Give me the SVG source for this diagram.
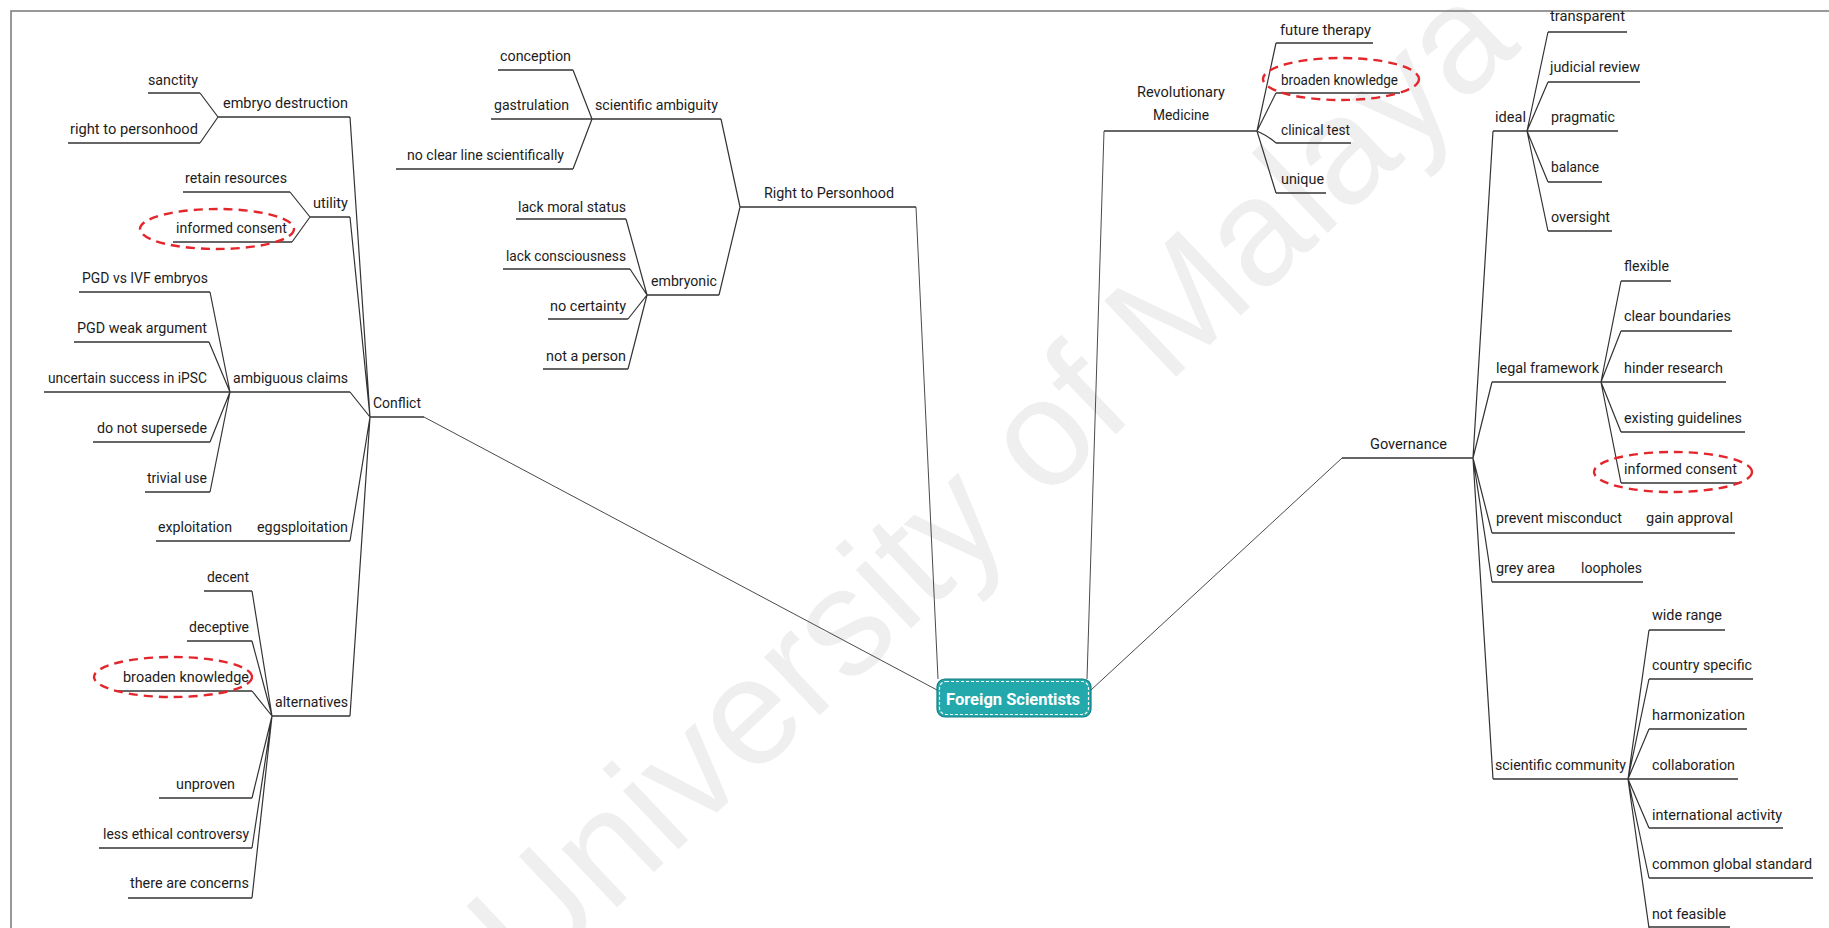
<svg xmlns="http://www.w3.org/2000/svg" width="1829" height="928" viewBox="0 0 1829 928">
  <defs>
    <style>
      .t { font-family: Roboto, "Liberation Sans", sans-serif; font-size: 14.5px; fill: #1c1c1c; }
      .ul { fill: none; stroke: #333; stroke-width: 1.3; }
      .link { fill: none; stroke: #333; stroke-width: 1.2; }
      .root { fill: none; stroke: #4a4a4a; stroke-width: 1; }
      .mark { fill: none; stroke: #e3262c; stroke-width: 2.4; stroke-dasharray: 9 6; }
      .wm { font-family: "Liberation Sans", Arial, sans-serif; font-size: 152px; fill: #efefef; }
    </style>
  </defs>

  <rect x="0" y="0" width="1829" height="928" fill="#ffffff"/>
  <text class="wm" transform="translate(530,990) rotate(-43.5)">University of Malaya</text>
  <path d="M11,928 L11,11 L1829,11" fill="none" stroke="#777" stroke-width="1.5"/>

  <!-- connectors between topics -->
  <g id="connectors">
    <path class="root" d="M424,417 L937,690"/>
    <path class="root" d="M916,207 L938,679"/>
    <path class="root" d="M1104,131 L1087,679"/>
    <path class="root" d="M1342,458 L1091,690"/>

    <path class="link" d="M350,117 L370,417 M350,217 L370,417 M350,392 L370,417 M350,541 L370,417 M350,716 L370,417"/>
    <path class="link" d="M200,93 L218,117 M200,143 L218,117"/>
    <path class="link" d="M290,192 L310,217 M292,242 L310,217"/>
    <path class="link" d="M210,292 L230,392 M209,342 L230,392 M210,442 L230,392 M210,492 L230,392"/>
    <path class="link" d="M252,591 L272,716 M252,641 L272,716 M252,691 L272,716 M252,798 L272,716 M252,848 L272,716 M252,898 L272,716"/>

    <path class="link" d="M721,119 L740,207 M719,295 L740,207"/>
    <path class="link" d="M573,70 L592,119 M573,169 L592,119"/>
    <path class="link" d="M626,219 L647,295 M630,269 L647,295 M628,319 L647,295 M628,369 L647,295"/>

    <path class="link" d="M1257,131 L1276,43 M1257,131 L1276,93 M1257,131 Q1268,136 1276,143 M1257,131 L1276,193"/>

    <path class="link" d="M1473,458 L1493,131 M1473,458 L1492,382 M1473,458 L1492,533 M1473,458 L1492,582 M1473,458 L1493,779"/>
    <path class="link" d="M1527,131 L1548,32 M1527,131 L1548,82 M1527,131 L1548,182 M1527,131 L1548,231"/>
    <path class="link" d="M1601,382 L1621,281 M1601,382 L1621,331 M1601,382 L1621,432 M1601,382 L1621,483"/>
    <path class="link" d="M1628,779 L1649,630 M1628,779 L1649,679 M1628,779 L1649,729 M1628,779 L1649,828 M1628,779 L1649,878 M1628,779 L1649,928"/>
  </g>

  <!-- central topic -->
  <g id="foreign-scientists">
    <rect x="937" y="679" width="154" height="38" rx="8" fill="#23a8ab" stroke="#127d82" stroke-width="1.2"/>
    <rect x="939.5" y="681.5" width="149" height="33" rx="6.5" fill="none" stroke="#ffffff" stroke-width="1.2" stroke-dasharray="3 2"/>
    <text x="946" y="705" textLength="134" lengthAdjust="spacingAndGlyphs" font-family="Roboto, 'Liberation Sans', sans-serif" font-size="16" font-weight="bold" fill="#ffffff">Foreign Scientists</text>
  </g>

  <!-- Conflict -->
  <g id="conflict">
    <path class="ul" d="M370,417 H424"/>
    <text class="t" x="373" y="408" textLength="48" lengthAdjust="spacingAndGlyphs">Conflict</text>
  </g>
  <g id="embryo-destruction">
    <path class="ul" d="M218,117 H350"/>
    <text class="t" x="223" y="108" textLength="125" lengthAdjust="spacingAndGlyphs">embryo destruction</text>
  </g>
  <g id="sanctity">
    <path class="ul" d="M148,93 H200"/>
    <text class="t" x="148" y="85" textLength="50" lengthAdjust="spacingAndGlyphs">sanctity</text>
  </g>
  <g id="right-to-personhood-leaf">
    <path class="ul" d="M68,143 H200"/>
    <text class="t" x="70" y="134" textLength="128" lengthAdjust="spacingAndGlyphs">right to personhood</text>
  </g>
  <g id="utility">
    <path class="ul" d="M310,217 H350"/>
    <text class="t" x="313" y="208" textLength="35" lengthAdjust="spacingAndGlyphs">utility</text>
  </g>
  <g id="retain-resources">
    <path class="ul" d="M183,192 H290"/>
    <text class="t" x="185" y="183" textLength="102" lengthAdjust="spacingAndGlyphs">retain resources</text>
  </g>
  <g id="informed-consent-left">
    <path class="ul" d="M173,242 H292"/>
    <text class="t" x="176" y="233" textLength="111" lengthAdjust="spacingAndGlyphs">informed consent</text>
    <ellipse class="mark" cx="217" cy="229" rx="77" ry="20"/>
  </g>
  <g id="ambiguous-claims">
    <path class="ul" d="M230,392 H350"/>
    <text class="t" x="233" y="383" textLength="115" lengthAdjust="spacingAndGlyphs">ambiguous claims</text>
  </g>
  <g id="pgd-vs-ivf">
    <path class="ul" d="M79,292 H210"/>
    <text class="t" x="82" y="283" textLength="126" lengthAdjust="spacingAndGlyphs">PGD vs IVF embryos</text>
  </g>
  <g id="pgd-weak">
    <path class="ul" d="M74,342 H209"/>
    <text class="t" x="77" y="333" textLength="130" lengthAdjust="spacingAndGlyphs">PGD weak argument</text>
  </g>
  <g id="uncertain-success">
    <path class="ul" d="M44,392 H230"/>
    <text class="t" x="48" y="383" textLength="159" lengthAdjust="spacingAndGlyphs">uncertain success in iPSC</text>
  </g>
  <g id="do-not-supersede">
    <path class="ul" d="M93,442 H210"/>
    <text class="t" x="97" y="433" textLength="110" lengthAdjust="spacingAndGlyphs">do not supersede</text>
  </g>
  <g id="trivial-use">
    <path class="ul" d="M145,492 H210"/>
    <text class="t" x="147" y="483" textLength="60" lengthAdjust="spacingAndGlyphs">trivial use</text>
  </g>
  <g id="eggsploitation">
    <path class="ul" d="M250,541 H350"/>
    <text class="t" x="257" y="532" textLength="91" lengthAdjust="spacingAndGlyphs">eggsploitation</text>
  </g>
  <g id="exploitation">
    <path class="ul" d="M156,541 H250"/>
    <text class="t" x="158" y="532" textLength="74" lengthAdjust="spacingAndGlyphs">exploitation</text>
  </g>
  <g id="alternatives">
    <path class="ul" d="M272,716 H350"/>
    <text class="t" x="275" y="707" textLength="73" lengthAdjust="spacingAndGlyphs">alternatives</text>
  </g>
  <g id="decent">
    <path class="ul" d="M204,591 H252"/>
    <text class="t" x="207" y="582" textLength="42" lengthAdjust="spacingAndGlyphs">decent</text>
  </g>
  <g id="deceptive">
    <path class="ul" d="M187,641 H252"/>
    <text class="t" x="189" y="632" textLength="60" lengthAdjust="spacingAndGlyphs">deceptive</text>
  </g>
  <g id="broaden-knowledge-left">
    <path class="ul" d="M118,691 H252"/>
    <text class="t" x="123" y="682" textLength="126" lengthAdjust="spacingAndGlyphs">broaden knowledge</text>
    <ellipse class="mark" cx="173" cy="677" rx="79" ry="20"/>
  </g>
  <g id="unproven">
    <path class="ul" d="M159,798 H252"/>
    <text class="t" x="176" y="789" textLength="59" lengthAdjust="spacingAndGlyphs">unproven</text>
  </g>
  <g id="less-ethical">
    <path class="ul" d="M99,848 H252"/>
    <text class="t" x="103" y="839" textLength="146" lengthAdjust="spacingAndGlyphs">less ethical controversy</text>
  </g>
  <g id="there-are-concerns">
    <path class="ul" d="M128,898 H252"/>
    <text class="t" x="130" y="888" textLength="119" lengthAdjust="spacingAndGlyphs">there are concerns</text>
  </g>

  <!-- Right to Personhood -->
  <g id="right-to-personhood">
    <path class="ul" d="M740,207 H916"/>
    <text class="t" x="764" y="198" textLength="130" lengthAdjust="spacingAndGlyphs">Right to Personhood</text>
  </g>
  <g id="scientific-ambiguity">
    <path class="ul" d="M592,119 H721"/>
    <text class="t" x="595" y="110" textLength="123" lengthAdjust="spacingAndGlyphs">scientific ambiguity</text>
  </g>
  <g id="conception">
    <path class="ul" d="M498,70 H573"/>
    <text class="t" x="500" y="61" textLength="71" lengthAdjust="spacingAndGlyphs">conception</text>
  </g>
  <g id="gastrulation">
    <path class="ul" d="M491,119 H592"/>
    <text class="t" x="494" y="110" textLength="75" lengthAdjust="spacingAndGlyphs">gastrulation</text>
  </g>
  <g id="no-clear-line">
    <path class="ul" d="M396,169 H573"/>
    <text class="t" x="407" y="160" textLength="157" lengthAdjust="spacingAndGlyphs">no clear line scientifically</text>
  </g>
  <g id="embryonic">
    <path class="ul" d="M647,295 H719"/>
    <text class="t" x="651" y="286" textLength="66" lengthAdjust="spacingAndGlyphs">embryonic</text>
  </g>
  <g id="lack-moral-status">
    <path class="ul" d="M516,219 H626"/>
    <text class="t" x="518" y="212" textLength="108" lengthAdjust="spacingAndGlyphs">lack moral status</text>
  </g>
  <g id="lack-consciousness">
    <path class="ul" d="M503,269 H630"/>
    <text class="t" x="506" y="261" textLength="120" lengthAdjust="spacingAndGlyphs">lack consciousness</text>
  </g>
  <g id="no-certainty">
    <path class="ul" d="M548,319 H628"/>
    <text class="t" x="550" y="311" textLength="76" lengthAdjust="spacingAndGlyphs">no certainty</text>
  </g>
  <g id="not-a-person">
    <path class="ul" d="M543,369 H628"/>
    <text class="t" x="546" y="361" textLength="80" lengthAdjust="spacingAndGlyphs">not a person</text>
  </g>

  <!-- Revolutionary Medicine -->
  <g id="revolutionary-medicine">
    <path class="ul" d="M1104,131 H1257"/>
    <text class="t" x="1181" y="97" text-anchor="middle" textLength="88" lengthAdjust="spacingAndGlyphs">Revolutionary</text>
    <text class="t" x="1181" y="120" text-anchor="middle" textLength="56" lengthAdjust="spacingAndGlyphs">Medicine</text>
  </g>
  <g id="future-therapy">
    <path class="ul" d="M1276,43 H1373"/>
    <text class="t" x="1280" y="35" textLength="91" lengthAdjust="spacingAndGlyphs">future therapy</text>
  </g>
  <g id="broaden-knowledge-right">
    <path class="ul" d="M1276,93 H1400"/>
    <text class="t" x="1281" y="85" textLength="117" lengthAdjust="spacingAndGlyphs">broaden knowledge</text>
    <ellipse class="mark" cx="1341" cy="79" rx="78" ry="21"/>
  </g>
  <g id="clinical-test">
    <path class="ul" d="M1276,143 H1351"/>
    <text class="t" x="1281" y="135" textLength="69" lengthAdjust="spacingAndGlyphs">clinical test</text>
  </g>
  <g id="unique">
    <path class="ul" d="M1276,193 H1326"/>
    <text class="t" x="1281" y="184" textLength="43" lengthAdjust="spacingAndGlyphs">unique</text>
  </g>

  <!-- Governance -->
  <g id="governance">
    <path class="ul" d="M1342,458 H1473"/>
    <text class="t" x="1370" y="449" textLength="77" lengthAdjust="spacingAndGlyphs">Governance</text>
  </g>
  <g id="ideal">
    <path class="ul" d="M1493,131 H1527"/>
    <text class="t" x="1495" y="122" textLength="31" lengthAdjust="spacingAndGlyphs">ideal</text>
  </g>
  <g id="transparent">
    <path class="ul" d="M1548,32 H1627"/>
    <text class="t" x="1550" y="21" textLength="75" lengthAdjust="spacingAndGlyphs">transparent</text>
  </g>
  <g id="judicial-review">
    <path class="ul" d="M1548,82 H1640"/>
    <text class="t" x="1550" y="72" textLength="90" lengthAdjust="spacingAndGlyphs">judicial review</text>
  </g>
  <g id="pragmatic">
    <path class="ul" d="M1527,131 H1618"/>
    <text class="t" x="1551" y="122" textLength="64" lengthAdjust="spacingAndGlyphs">pragmatic</text>
  </g>
  <g id="balance">
    <path class="ul" d="M1548,182 H1602"/>
    <text class="t" x="1551" y="172" textLength="48" lengthAdjust="spacingAndGlyphs">balance</text>
  </g>
  <g id="oversight">
    <path class="ul" d="M1548,231 H1612"/>
    <text class="t" x="1551" y="222" textLength="59" lengthAdjust="spacingAndGlyphs">oversight</text>
  </g>
  <g id="legal-framework">
    <path class="ul" d="M1492,382 H1601"/>
    <text class="t" x="1496" y="373" textLength="103" lengthAdjust="spacingAndGlyphs">legal framework</text>
  </g>
  <g id="flexible">
    <path class="ul" d="M1621,281 H1671"/>
    <text class="t" x="1624" y="271" textLength="45" lengthAdjust="spacingAndGlyphs">flexible</text>
  </g>
  <g id="clear-boundaries">
    <path class="ul" d="M1621,331 H1732"/>
    <text class="t" x="1624" y="321" textLength="107" lengthAdjust="spacingAndGlyphs">clear boundaries</text>
  </g>
  <g id="hinder-research">
    <path class="ul" d="M1601,382 H1726"/>
    <text class="t" x="1624" y="373" textLength="99" lengthAdjust="spacingAndGlyphs">hinder research</text>
  </g>
  <g id="existing-guidelines">
    <path class="ul" d="M1621,432 H1745"/>
    <text class="t" x="1624" y="423" textLength="118" lengthAdjust="spacingAndGlyphs">existing guidelines</text>
  </g>
  <g id="informed-consent-right">
    <path class="ul" d="M1621,483 H1739"/>
    <text class="t" x="1624" y="474" textLength="113" lengthAdjust="spacingAndGlyphs">informed consent</text>
    <ellipse class="mark" cx="1673" cy="472" rx="79" ry="20"/>
  </g>
  <g id="prevent-misconduct">
    <path class="ul" d="M1492,533 H1634"/>
    <text class="t" x="1496" y="523" textLength="126" lengthAdjust="spacingAndGlyphs">prevent misconduct</text>
  </g>
  <g id="gain-approval">
    <path class="ul" d="M1634,533 H1735"/>
    <text class="t" x="1646" y="523" textLength="87" lengthAdjust="spacingAndGlyphs">gain approval</text>
  </g>
  <g id="grey-area">
    <path class="ul" d="M1492,582 H1568"/>
    <text class="t" x="1496" y="573" textLength="59" lengthAdjust="spacingAndGlyphs">grey area</text>
  </g>
  <g id="loopholes">
    <path class="ul" d="M1568,582 H1643"/>
    <text class="t" x="1581" y="573" textLength="61" lengthAdjust="spacingAndGlyphs">loopholes</text>
  </g>
  <g id="scientific-community">
    <path class="ul" d="M1493,779 H1628"/>
    <text class="t" x="1495" y="770" textLength="131" lengthAdjust="spacingAndGlyphs">scientific community</text>
  </g>
  <g id="wide-range">
    <path class="ul" d="M1649,630 H1725"/>
    <text class="t" x="1652" y="620" textLength="70" lengthAdjust="spacingAndGlyphs">wide range</text>
  </g>
  <g id="country-specific">
    <path class="ul" d="M1649,679 H1753"/>
    <text class="t" x="1652" y="670" textLength="100" lengthAdjust="spacingAndGlyphs">country specific</text>
  </g>
  <g id="harmonization">
    <path class="ul" d="M1649,729 H1747"/>
    <text class="t" x="1652" y="720" textLength="93" lengthAdjust="spacingAndGlyphs">harmonization</text>
  </g>
  <g id="collaboration">
    <path class="ul" d="M1628,779 H1738"/>
    <text class="t" x="1652" y="770" textLength="83" lengthAdjust="spacingAndGlyphs">collaboration</text>
  </g>
  <g id="international-activity">
    <path class="ul" d="M1649,828 H1783"/>
    <text class="t" x="1652" y="820" textLength="130" lengthAdjust="spacingAndGlyphs">international activity</text>
  </g>
  <g id="common-global-standard">
    <path class="ul" d="M1649,878 H1813"/>
    <text class="t" x="1652" y="869" textLength="160" lengthAdjust="spacingAndGlyphs">common global standard</text>
  </g>
  <g id="not-feasible">
    <path class="ul" d="M1649,927 H1730"/>
    <text class="t" x="1652" y="919" textLength="74" lengthAdjust="spacingAndGlyphs">not feasible</text>
  </g>
</svg>
